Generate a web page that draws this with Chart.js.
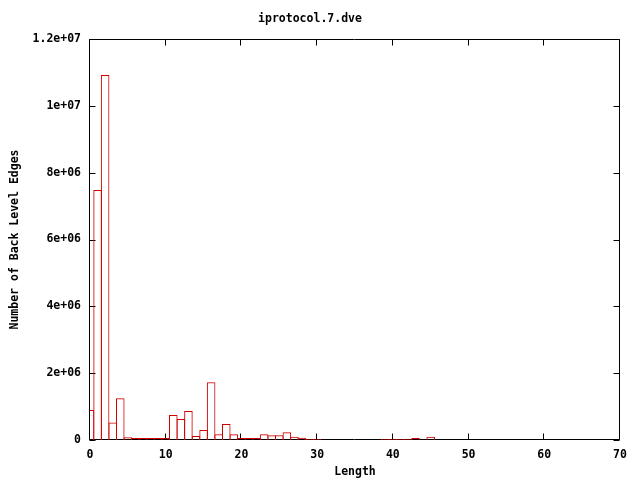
<!DOCTYPE html>
<html>
<head>
<meta charset="utf-8">
<script src="https://cdn.jsdelivr.net/npm/chart.js@4.4.0/dist/chart.umd.min.js"></script>
<style>
body{margin:0;background:#fff;}
#wrap{width:640px;height:480px;}
</style>
</head>
<body>
<div id="wrap"><canvas id="myChart" width="640" height="480"></canvas></div>
<script>
// histogram: edge length -> number of back level edges
var lengths = [0,1,2,3,4,5,6,7,8,9,10,11,12,13,14,15,16,17,18,19,20,
  21,22,23,24,25,26,27,28,29,30,39,40,41,42,43,45];
var edgeCounts = [900000,7480000,10920000,520000,1250000,80000,60000,60000,60000,60000,
  60000,750000,630000,870000,120000,300000,1730000,170000,480000,170000,60000,
  60000,60000,170000,140000,140000,230000,100000,70000,30000,30000,
  30000,30000,30000,30000,60000,100000];
var xTickValues = [0,10,20,30,40,50,60,70];
var yTickValues = [0,2000000,4000000,6000000,8000000,10000000,12000000];
var yTickLabels = ['0','2e+06','4e+06','6e+06','8e+06','1e+07','1.2e+07'];

var monoFont = {family: '"DejaVu Sans Mono", monospace', size: 11.5, weight: 'bold'};
var red = '#d00000';

var points = [];
for (var i = 0; i < lengths.length; i++) {
  points.push({x: lengths[i], y: edgeCounts[i]});
}

// gnuplot style frame: full border with inward ticks on all four sides
// drawn before the boxes so the low red outlines stay visible on top
var framePlugin = {
  id: 'frame',
  beforeDatasetsDraw: function(chart) {
    var ctx = chart.ctx;
    var a = chart.chartArea;
    var xs = chart.scales.x, ys = chart.scales.y;
    var L = Math.round(a.left) - 0.5, R = Math.round(a.right) - 0.5;
    var T = Math.round(a.top) + 0.5, B = Math.round(a.bottom) - 0.5;
    var tl = 6;
    ctx.save();
    ctx.strokeStyle = '#000';
    ctx.lineWidth = 1;
    ctx.beginPath();
    ctx.rect(L, T, R - L, B - T);
    xTickValues.forEach(function(v) {
      var px = Math.round(xs.getPixelForValue(v)) - 0.5;
      ctx.moveTo(px, B); ctx.lineTo(px, B - tl);
      ctx.moveTo(px, T); ctx.lineTo(px, T + tl);
    });
    yTickValues.forEach(function(v) {
      var py = Math.round(ys.getPixelForValue(v)) + 0.5;
      ctx.moveTo(L, py); ctx.lineTo(L + tl, py);
      ctx.moveTo(R, py); ctx.lineTo(R - tl, py);
    });
    ctx.stroke();
    ctx.restore();
  }
};

var data = {
  datasets: [{
    label: 'iprotocol.7.dve',
    data: points,
    borderColor: red,
    backgroundColor: 'rgba(0,0,0,0)',
    borderWidth: 1,
    borderSkipped: 'start',
    // a touch over one unit wide so neighbouring outlines share one line
    barPercentage: 1.13,
    categoryPercentage: 1.0,
    clip: 0
  }]
};

var config = {
  type: 'bar',
  data: data,
  options: {
    responsive: false,
    animation: false,
    layout: {padding: {left: 0, right: 20, top: 0, bottom: 0}},
    plugins: {
      legend: {display: false},
      tooltip: {enabled: false},
      title: {
        display: true,
        text: 'iprotocol.7.dve',
        color: '#000',
        font: monoFont,
        padding: {top: 12, bottom: 13.2}
      }
    },
    scales: {
      x: {
        type: 'linear',
        min: 0,
        max: 70,
        offset: false,
        grace: 0,
        afterBuildTicks: function(scale) {
          scale.ticks = xTickValues.map(function(v) { return {value: v}; });
        },
        afterFit: function(scale) { scale.height = 40; },
        grid: {display: false, offset: false},
        border: {display: false},
        ticks: {color: '#000', font: monoFont, padding: 0, maxRotation: 0, autoSkip: false},
        title: {display: true, text: 'Length', color: '#000', font: monoFont, padding: {top: 0, bottom: 1}}
      },
      y: {
        min: 0,
        max: 12000000,
        afterBuildTicks: function(scale) {
          scale.ticks = yTickValues.map(function(v) { return {value: v}; });
        },
        afterFit: function(scale) { scale.width = 90; },
        grid: {display: false},
        border: {display: false},
        ticks: {
          color: '#000',
          font: monoFont,
          padding: 1,
          autoSkip: false,
          callback: function(value) {
            var idx = yTickValues.indexOf(value);
            return idx >= 0 ? yTickLabels[idx] : '';
          }
        },
        title: {display: true, text: 'Number of Back Level Edges', color: '#000', font: monoFont, padding: {top: 8, bottom: 0}}
      }
    }
  },
  plugins: [framePlugin]
};

var myChart = new Chart(document.getElementById('myChart'), config);
</script>
</body>
</html>
